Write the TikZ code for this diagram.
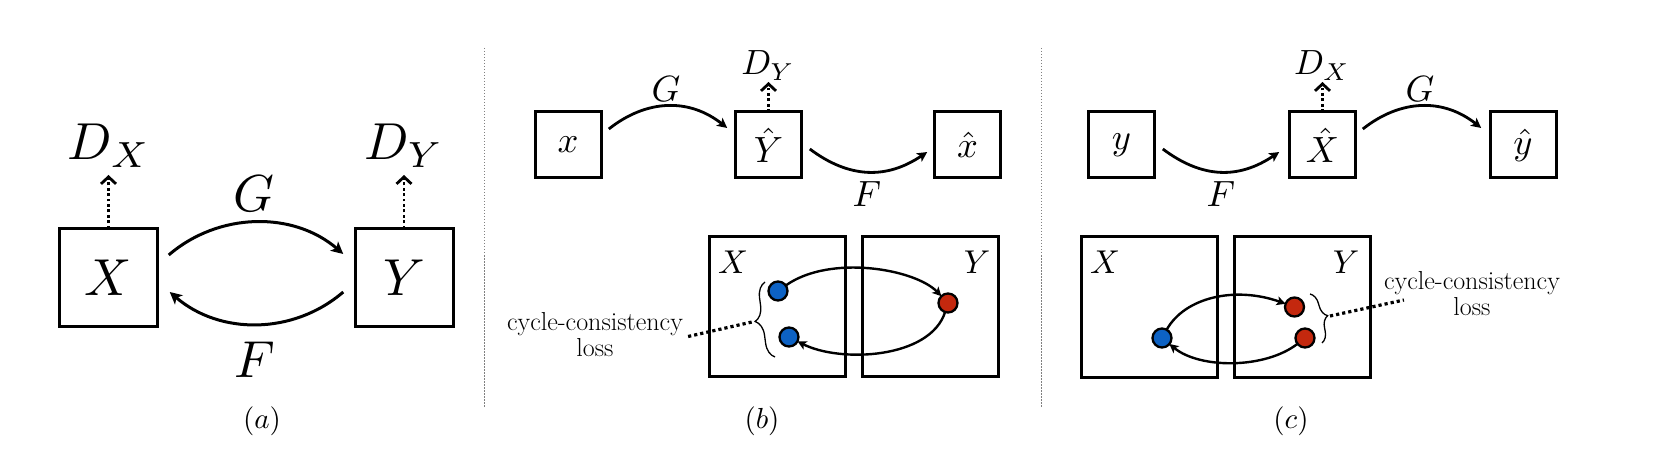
\documentclass[tikz,border=0pt]{standalone}
\usepackage{graphicx}
\usetikzlibrary{arrows.meta,decorations.pathreplacing}
\definecolor{dotblue}{RGB}{13,98,196}
\definecolor{dotred}{RGB}{196,40,14}
\newcommand{\mA}[1]{\scalebox{5.2}{$#1$}}
\newcommand{\mB}[1]{\scalebox{3.65}{$#1$}}
\newcommand{\mD}[1]{\scalebox{3.5}{$#1$}}
\newcommand{\mS}[1]{\scalebox{3.3}{$#1$}}
\newcommand{\mC}[1]{\scalebox{2.9}{$#1$}}
\tikzset{
  fcyc/.style={font=\fontsize{26}{26}\selectfont, align=center, inner sep=2pt},
  bigbox/.style={draw, line width=3pt, minimum width=98pt, minimum height=98pt, inner sep=0pt, outer sep=0pt},
  smallbox/.style={draw, line width=3pt, minimum width=66pt, minimum height=66pt, inner sep=0pt, outer sep=0pt},
  dombox/.style={draw, line width=3pt, minimum width=136pt, minimum height=140pt, inner sep=0pt, outer sep=0pt},
  dotnode/.style={circle, draw, line width=2.3pt, minimum size=19pt, inner sep=0pt, outer sep=0pt},
  mapA/.style={line width=3pt, -{Stealth[length=12pt,width=12pt,inset=3pt]}},
  mapB/.style={line width=2.8pt, -{Stealth[length=10pt,width=10pt,inset=2.5pt]}},
  mapC/.style={line width=2.4pt, -{Stealth[length=9pt,width=9pt,inset=2.2pt]}},
  discarrow/.style={line width=2.6pt, dash pattern=on 2.8pt off 2.6pt, -{Straight Barb[length=7pt,width=15pt,line width=2.8pt]}},
  lossline/.style={line width=3.2pt, dash pattern=on 3.2pt off 3pt},
  sepline/.style={gray, line width=1pt, dash pattern=on 1.5pt off 1.5pt},
  braceB/.style={line width=1.3pt, decorate, decoration={brace, amplitude=15pt}},
  braceC/.style={line width=1.3pt, decorate, decoration={brace, amplitude=12pt}},
  lab/.style={inner sep=0pt, anchor=base},
}
\begin{document}
\begin{tikzpicture}[x=1pt,y=1pt]
\useasboundingbox (0,0) rectangle (1657,469);
% separators
\draw[sepline] (484,421) -- (484,62);
\draw[sepline] (1041,421) -- (1041,62);

% ---------- (a) ----------
\node[bigbox] (aX) at (108.5,191.5) {\mA{X}};
\node[bigbox] (aY) at (404,191.5) {\mA{Y}};
\node[lab] (aDX) at (109,309) {\mA{D_X}};
\node[lab] (aDY) at (404,309) {\mA{D_Y}};
\coordinate (aDXt) at (108.5,294);
\coordinate (aDYt) at (404,294);
\draw[discarrow] (aX.north) -- (aDXt);
\draw[discarrow] (aY.north) -- (aDYt);
\draw[mapA] ([xshift=11.25pt,yshift=22.5pt]aX.east) .. controls +(50,43) and +(-50,43) .. ([xshift=-11.75pt,yshift=23.5pt]aY.west);
\draw[mapA] ([xshift=-11.75pt,yshift=-14.5pt]aY.west) .. controls +(-50,-43) and +(50,-43) .. ([xshift=12.25pt,yshift=-14.5pt]aX.east);
\node[lab] (aG) at (254,257) {\mA{G}};
\node[lab] (aF) at (255,92) {\mA{F}};
\node[lab] (capA) at (262,41) {\mC{(a)}};

% ---------- (b) ----------
\node[smallbox] (bx) at (568,324) {\mB{x}};
\node[smallbox] (bYh) at (768.5,324) {\mB{\hat{Y}}};
\node[smallbox] (bxh) at (967.5,324) {\mB{\hat{x}}};
\node[lab] (bDY) at (768,394) {\mD{D_Y}};
\coordinate (bDYt) at (768.5,387);
\draw[discarrow] (bYh.north) -- (bDYt);
\draw[mapB] ([xshift=7.8pt,yshift=16pt]bx.east) .. controls +(38,30) and +(-38,30) .. ([xshift=-8.3pt,yshift=17pt]bYh.west);
\draw[mapB] ([xshift=8.3pt,yshift=-4pt]bYh.east) .. controls +(40,-30) and +(-40,-27) .. ([xshift=-7.3pt,yshift=-7pt]bxh.west);
\node[lab] (bG) at (666,367) {\mB{G}};
\node[lab] (bF) at (867,262) {\mB{F}};

\node[dombox] (bL) at (777.5,162.5) {};
\node[dombox] (bR) at (930.5,162.5) {};
\node[lab] (bXl) at (733,196) {\mS{X}};
\node[lab] (bYl) at (977,196) {\mS{Y}};
\node[dotnode, fill=dotblue] (bb1) at (778,178) {};
\node[dotnode, fill=dotblue] (bb2) at (789,132) {};
\node[dotnode, fill=dotred] (br) at (948,166) {};
\draw[mapC] (bb1) .. controls +(52,37) and +(-33,34) .. (br);
\draw[mapC] (br) .. controls +(-18,-56) and +(51,-26) .. (bb2);
\draw[braceB] (775,112) -- (765,187);
\coordinate (bbt) at (752,147);
\node[fcyc] (bloss) at (595,134.5) {cycle-consistency\\loss};
\draw[lossline] ([xshift=3pt,yshift=-2pt]bloss.east) -- (bbt);
\node[lab] (capB) at (762,41) {\mC{(b)}};

% ---------- (c) ----------
\node[smallbox] (cy) at (1121.5,324) {\mB{y}};
\node[smallbox] (cXh) at (1322.5,324) {\mB{\hat{X}}};
\node[smallbox] (cyh) at (1523,324) {\mB{\hat{y}}};
\node[lab] (cDX) at (1322,394) {\mD{D_X}};
\coordinate (cDXt) at (1322.5,387);
\draw[discarrow] (cXh.north) -- (cDXt);
\draw[mapB] ([xshift=8.3pt,yshift=-4pt]cy.east) .. controls +(40,-30) and +(-40,-27) .. ([xshift=-10.3pt,yshift=-7pt]cXh.west);
\draw[mapB] ([xshift=7.3pt,yshift=16pt]cXh.east) .. controls +(38,30) and +(-38,30) .. ([xshift=-8.8pt,yshift=17pt]cyh.west);
\node[lab] (cF) at (1221,262) {\mB{F}};
\node[lab] (cG) at (1420,367) {\mB{G}};

\node[dombox] (cL) at (1149.5,162) {};
\node[dombox] (cR) at (1302,162) {};
\node[lab] (cXl) at (1105,196) {\mS{X}};
\node[lab] (cYl) at (1346,196) {\mS{Y}};
\node[dotnode, fill=dotblue] (cb) at (1162,131) {};
\node[dotnode, fill=dotred] (cr1) at (1294.5,162) {};
\node[dotnode, fill=dotred] (cr2) at (1305,131) {};
\draw[mapC] (cb) .. controls +(23,41) and +(-59,21) .. (cr1);
\draw[mapC] (cr2) .. controls +(-40,-31) and +(38,-31) .. (cb);
\draw[braceC] (1310,175) -- (1322,126);
\coordinate (cbt) at (1330,153);
\node[fcyc] (closs) at (1472,175.5) {cycle-consistency\\loss};
\draw[lossline] (cbt) -- ([xshift=22pt,yshift=-6.5pt]closs.west);
\node[lab] (capC) at (1291,41) {\mC{(c)}};
\end{tikzpicture}
\end{document}
